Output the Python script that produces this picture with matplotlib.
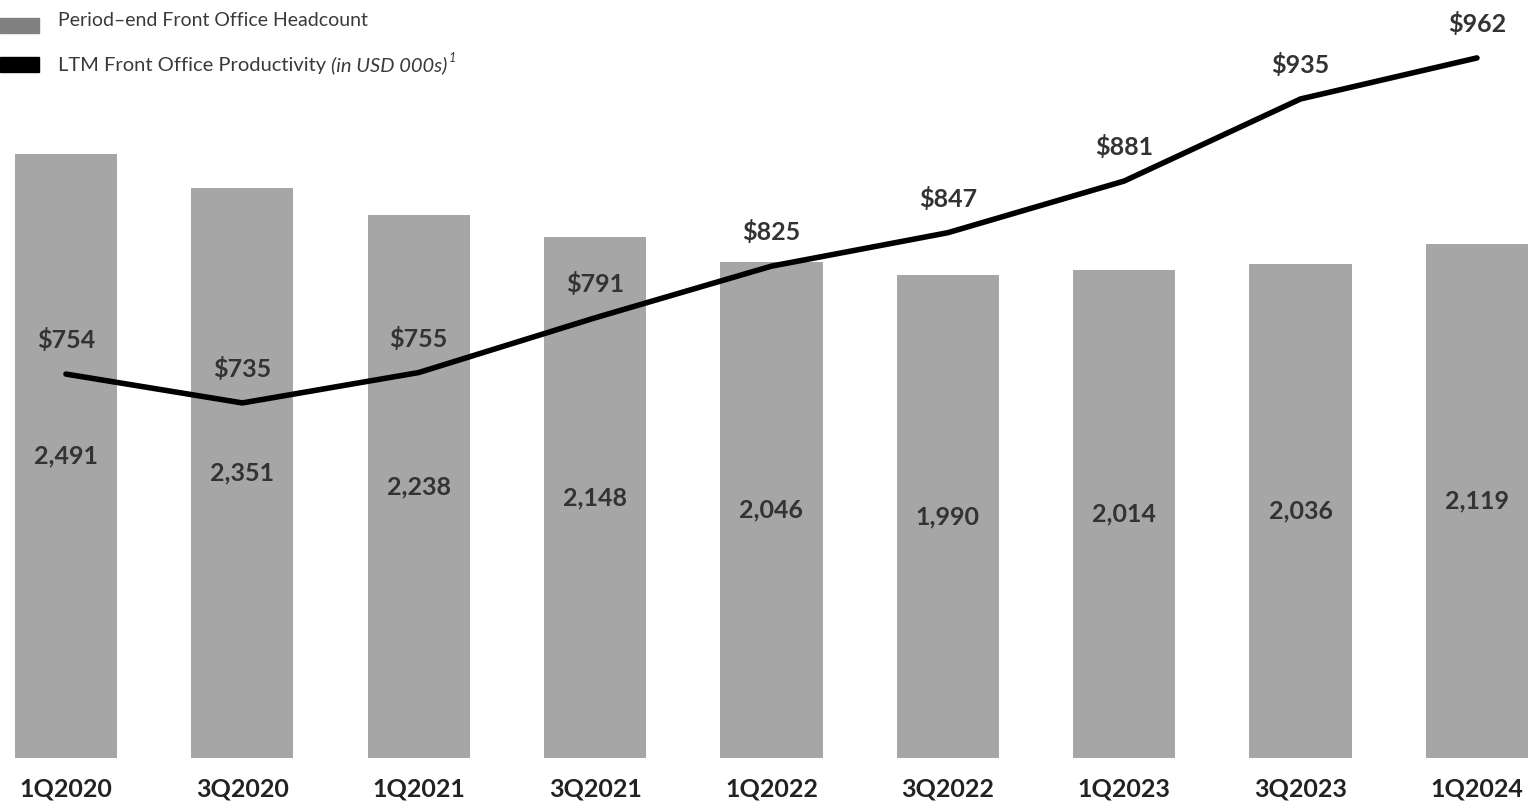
import matplotlib
matplotlib.use("Agg")
import matplotlib.pyplot as plt
from matplotlib.patches import Rectangle

# ==================== DATA ====================
quarters = ["1Q2020", "3Q2020", "1Q2021", "3Q2021", "1Q2022",
            "3Q2022", "1Q2023", "3Q2023", "1Q2024"]
headcount = [2491, 2351, 2238, 2148, 2046, 1990, 2014, 2036, 2119]
productivity = [754, 735, 755, 791, 825, 847, 881, 935, 962]

BAR_COLOR = "#a6a6a6"
TEXT_COLOR = "#333333"
FONT = ["Lato", "DejaVu Sans"]

plt.rcParams["font.family"] = FONT

W, H = 1529, 805
fig = plt.figure(figsize=(W / 100, H / 100), dpi=100)
ax = fig.add_axes([0, 47 / H, 1, 758 / H])
ax2 = ax.twinx()

x = list(range(len(quarters)))

# bars, label sits in the middle of each bar
ax.bar(x, headcount, width=0.58, color=BAR_COLOR, zorder=1)
for xi, h in zip(x, headcount):
    ax.text(xi, h / 2, f"{h:,}", ha="center", va="center",
            fontsize=18, fontweight="bold", color=TEXT_COLOR)

# productivity line (right scale, not zero based)
ax2.plot(x, productivity, color="black", lw=4, solid_capstyle="round",
         solid_joinstyle="miter", zorder=3)
for xi, v in zip(x, productivity):
    ax2.annotate(f"${v}", (xi, v), xytext=(0, 24.5), textcoords="offset points",
                 ha="center", va="center", fontsize=18, fontweight="bold",
                 color=TEXT_COLOR)

ax.set_xlim(-0.374, 8.295)
ax.set_ylim(0, 3126)
ax2.set_ylim(501.4, 1000.1)

for a in (ax, ax2):
    for s in a.spines.values():
        s.set_visible(False)
    a.set_yticks([])
ax.set_xticks(x)
ax.set_xticklabels(quarters, fontsize=18, fontweight="bold", color="#222222")
ax.tick_params(axis="x", length=0, pad=14)
ax.set_zorder(ax2.get_zorder() - 1)
ax.patch.set_visible(False)

# legend drawn by hand
fig.patches.append(Rectangle((0, 1 - 33 / H), 39 / W, 15 / H,
                             transform=fig.transFigure, color="#808080"))
fig.patches.append(Rectangle((0, 1 - 72 / H), 39 / W, 15 / H,
                             transform=fig.transFigure, color="black"))
fig.text(58 / W, 1 - 20 / H, "Period\u2013end Front Office Headcount",
         fontsize=14, color="#3a3a3a", va="center")
t1 = fig.text(58 / W, 1 - 65 / H, "LTM Front Office Productivity ",
              fontsize=14.5, color="#3a3a3a", va="center")
fig.canvas.draw()
r = fig.canvas.get_renderer()
bb = t1.get_window_extent(r)
t2 = fig.text(bb.x1 / W, 1 - 65 / H, "(in USD 000s)", fontsize=14.5,
              style="italic", color="#3a3a3a", va="center")
bb2 = t2.get_window_extent(r)
fig.text(bb2.x1 / W + 0.001, 1 - 58 / H, "1", fontsize=9,
         style="italic", color="#3a3a3a", va="center")

fig.savefig("out.png", dpi=100)
